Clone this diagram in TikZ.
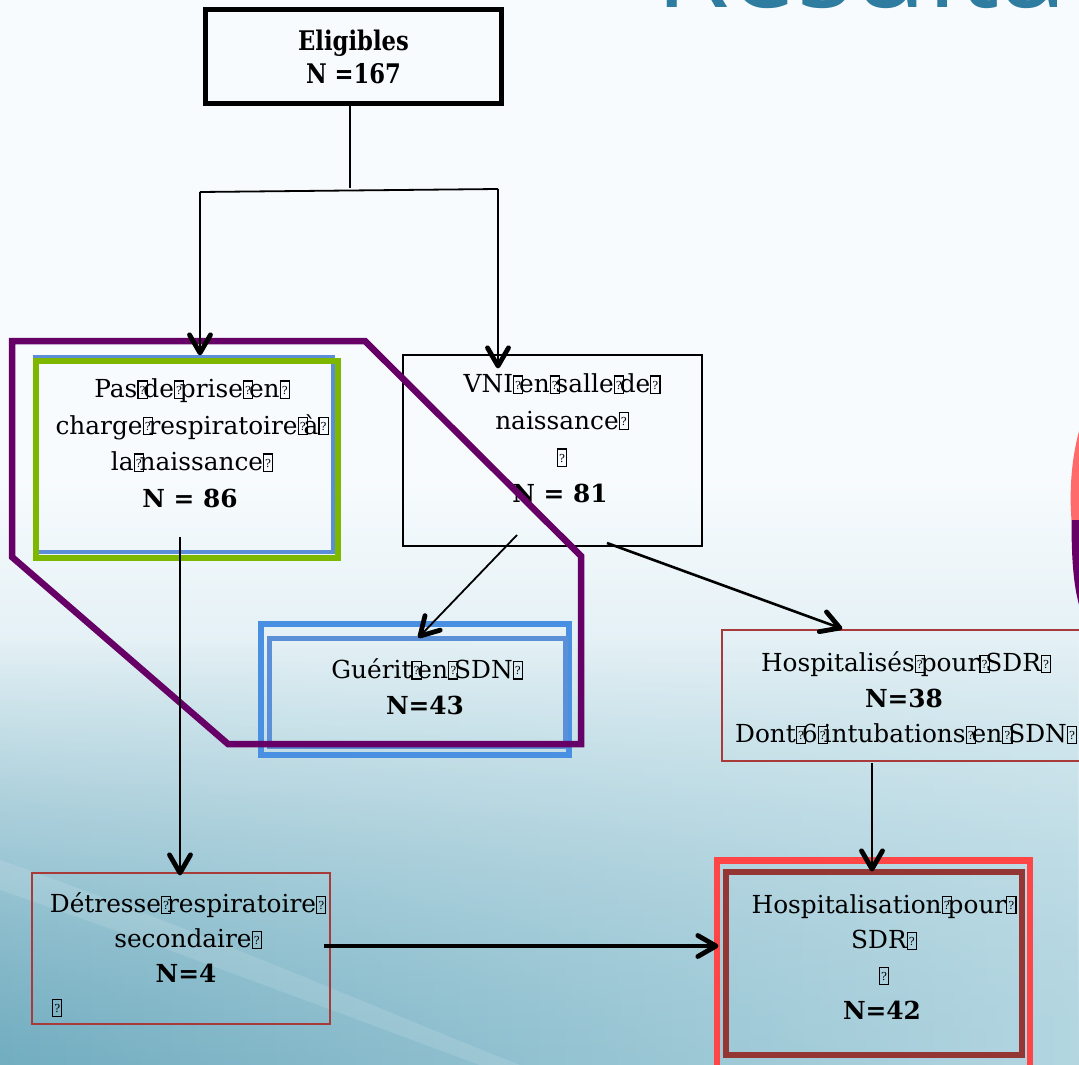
\documentclass[tikz,border=0pt]{standalone}
\usepackage{fontspec}
\usepackage{graphicx}
\setmainfont{DejaVu Serif}
\newfontfamily\titlefont{Open Sans}
\usetikzlibrary{fadings,calc}
\definecolor{bgtop}{HTML}{F7FBFD}
\definecolor{bgbot}{HTML}{B3D6E1}
\definecolor{bgdark}{HTML}{72ADC0}
\definecolor{pgreen}{HTML}{7DB700}
\definecolor{pblue}{HTML}{5B8ED6}
\definecolor{gblue}{HTML}{4A90E2}
\definecolor{gblue2}{HTML}{5B8FD8}
\definecolor{ppurple}{HTML}{660066}
\definecolor{thinred}{HTML}{A83A3A}
\definecolor{brightred}{HTML}{FF4545}
\definecolor{darkred}{HTML}{943634}
\definecolor{titleblue}{HTML}{2E7CA0}
\definecolor{edgered}{HTML}{FF6A6A}
\newcommand{\qb}{\makebox[6pt][l]{\setlength{\fboxsep}{0pt}\setlength{\fboxrule}{1.1pt}\fbox{\makebox[8pt]{\rule{0pt}{16pt}\raisebox{3.5pt}{\fontsize{11}{11}\selectfont ?}}}}}
\newcommand{\barb}[2]{\draw[barbtip] ($(#1)!21pt!30:(#2)$) -- (#1) -- ($(#1)!21pt!-30:(#2)$);}
\begin{document}
\begin{tikzpicture}[x=1pt,y=-1pt,
  boxnode/.style={draw, rectangle, inner sep=0pt},
  txt/.style={align=center, inner sep=0pt, font=\fontsize{24.8}{36.5}\selectfont},
  barbtip/.style={line width=4.8pt, line cap=round, line join=round},
  conn/.style={line width=1.8pt}]
\useasboundingbox (0,0) rectangle (1079,1065);
\clip (0,0) rectangle (1079,1065);
% background
\fill[bgtop] (0,0) rectangle (1079,1065);
\shade[top color=bgtop, bottom color=bgbot] (0,480) rectangle (1079,1065);
\shade[left color=bgdark, right color=bgbot, path fading=north] (0,640) rectangle (1079,1065);
\fill[white, opacity=0.12] (0,860) .. controls (200,930) and (380,1010) .. (520,1065) -- (480,1065) .. controls (330,1010) and (160,945) .. (0,890) -- cycle;
% title
\node[anchor=base west, inner sep=0pt, font=\titlefont\fontsize{120}{120}\selectfont, text=titleblue] (title) at (655,8) {Résultats};
% boxes
\node[boxnode, line width=5.5pt, minimum width=296, minimum height=94] (elig) at (353.5,56.5) {};
\node[boxnode, draw=pblue, line width=3.5pt, minimum width=298.5, minimum height=195.5] (bluebox) at (183.75,454.25) {};
\node[boxnode, draw=pgreen, line width=6pt, minimum width=302, minimum height=197] (pas) at (186.5,459) {};
\node[boxnode, line width=1.5pt, minimum width=299, minimum height=191] (vni) at (552.5,450.5) {};
\node[boxnode, draw=gblue, line width=6pt, minimum width=308, minimum height=131] (gout) at (414.5,689.5) {};
\node[boxnode, draw=gblue2, line width=5pt, minimum width=296, minimum height=108] (gin) at (417,692) {};
\node[boxnode, draw=thinred, line width=1.8pt, minimum width=363, minimum height=131] (hosp1) at (903.5,695.5) {};
\node[boxnode, draw=brightred, line width=6.5pt, minimum width=313, minimum height=214.5] (hosp2o) at (873.5,967.75) {};
\node[boxnode, draw=darkred, line width=6.5pt, minimum width=296, minimum height=183] (hosp2i) at (874,963.5) {};
\node[boxnode, draw=thinred, line width=1.8pt, minimum width=298, minimum height=151] (det) at (181,948.5) {};
% texts
\node[align=center, inner sep=0pt, font=\bfseries\fontsize{27}{33}\selectfont] (telig) at (353.5,57) {\scalebox{0.84}[1]{Eligibles}\\\scalebox{0.84}[1]{N =167}};
\node[txt] (tpas) at (190,443) {Pas\qb de\qb prise\qb en\qb\\charge\qb respiratoire\qb à\qb\\la\qb naissance\qb\\\textbf{N = 86}};
\node[txt] (tvni) at (560,438) {VNI\qb en\qb salle\qb de\qb\\naissance\qb\\\qb\\\textbf{N = 81}};
\node[txt] (tgue) at (425,687) {Guérit\qb en\qb SDN\qb\\\textbf{N=43}};
\node[txt, font=\fontsize{24.8}{35.5}\selectfont] (thosp1) at (904,698) {Hospitalisés\qb pour\qb SDR\qb\\\textbf{N=38}\\Dont\qb 6\qb intubations\qb en\qb SDN\qb};
\node[txt, font=\fontsize{24.8}{35.5}\selectfont] (thosp2) at (882,957) {Hospitalisation\qb pour\qb\\SDR\qb\\\qb\\\textbf{N=42}};
\node[txt, font=\fontsize{24.8}{35}\selectfont] (tdet) at (186,938) {Détresse\qb respiratoire\qb\\secondaire\qb\\\textbf{N=4}};
\node[txt, anchor=base west] (tdetq) at (52,1016) {\qb};
% purple group outline
\draw[ppurple, line width=6.5pt] (12,341) -- (365,341) -- (581,556) -- (581,744) -- (228,744) -- (12,557) -- cycle;
% connectors
\coordinate (jm) at (350,188);
\coordinate (jl) at (200,192);
\coordinate (jr) at (498,189);
\coordinate (tA) at (200,353);
\coordinate (tB) at (498,366);
\coordinate (p1) at (180,537);
\coordinate (tC) at (180,873);
\coordinate (v1) at (517,535);
\coordinate (g1) at (420,636);
\coordinate (v2) at (607,543);
\coordinate (h1a) at (840,628);
\coordinate (h1b) at (872,763);
\coordinate (tF) at (872,869);
\coordinate (d1) at (324,946);
\coordinate (tG) at (716,946);
\draw[conn] (elig.south -| jm) -- (jm);
\draw[conn] (jl) -- (jr);
\draw[conn] (jl) -- (tA); \barb{tA}{jl}
\draw[conn] (jr) -- (tB); \barb{tB}{jr}
\draw[conn] (p1) -- (tC); \barb{tC}{p1}
\draw[conn] (v1) -- (g1); \barb{g1}{v1}
\draw[conn, line width=2.6pt] (v2) -- (h1a); \barb{h1a}{v2}
\draw[conn] (h1b) -- (tF); \barb{tF}{h1b}
\draw[conn, line width=3.2pt] (d1) -- (tG); \barb{tG}{d1}
% partial shape at right edge
\draw[edgered, line width=9pt] (1084,430) .. controls (1075,462) and (1074,495) .. (1076,520);
\draw[ppurple, line width=9pt] (1076,520) .. controls (1076,560) and (1078,585) .. (1084,606);
\end{tikzpicture}
\end{document}
